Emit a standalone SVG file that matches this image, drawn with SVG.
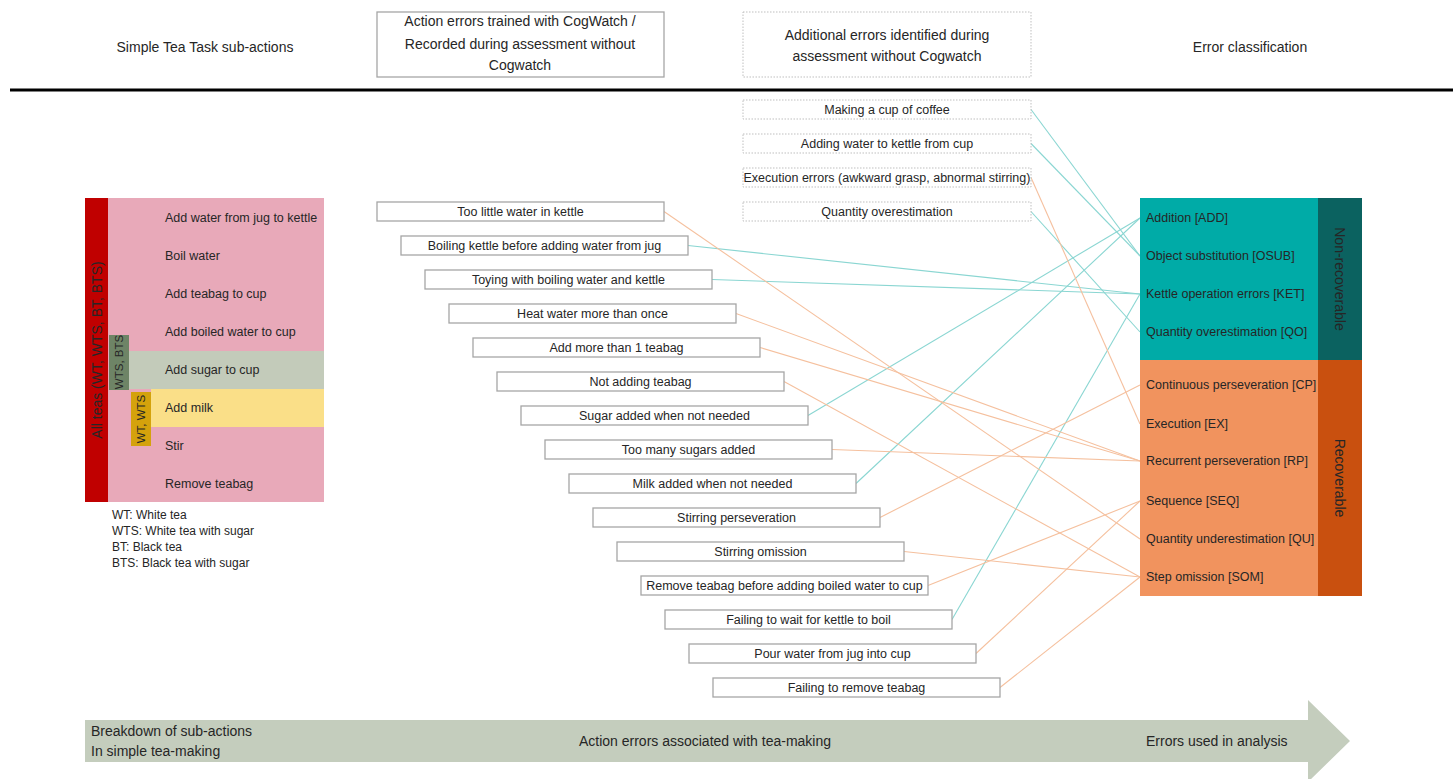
<svg xmlns="http://www.w3.org/2000/svg" width="1453" height="779" viewBox="0 0 1453 779">
<style>
text{font-family:"Liberation Sans",Arial,sans-serif;fill:#262626}
.h{font-size:14px}
.s{font-size:12.5px}
.m{font-size:12.5px;text-anchor:middle}
.box{fill:#fff;stroke:#A6A6A6;stroke-width:1.3}
.dbox{fill:#fff;stroke:#BFBFBF;stroke-width:1;stroke-dasharray:1.5 1.5}
.t{stroke:#8AD6D2;stroke-width:1.1;fill:none}
.o{stroke:#F5C09E;stroke-width:1.1;fill:none}
</style>
<rect width="1453" height="779" fill="#fff"/>

<g id="headers">
<text class="h" x="205" y="52" text-anchor="middle">Simple Tea Task sub-actions</text>
<rect x="377" y="12" width="287" height="65" class="box"/>
<text class="h" x="520" y="26" text-anchor="middle">Action errors trained with CogWatch /</text>
<text class="h" x="520" y="49" text-anchor="middle">Recorded during assessment without</text>
<text class="h" x="520" y="70" text-anchor="middle">Cogwatch</text>
<rect x="743" y="12" width="288" height="65" class="dbox"/>
<text class="h" x="887" y="40" text-anchor="middle">Additional errors identified during</text>
<text class="h" x="887" y="61" text-anchor="middle">assessment without Cogwatch</text>
<text class="h" x="1250" y="52" text-anchor="middle">Error classification</text>
<line x1="10" y1="90" x2="1453" y2="90" stroke="#000" stroke-width="3"/>
</g>

<g id="subactions">
<rect x="85" y="198" width="239" height="304" fill="#E8A9B9"/>
<rect x="129" y="351" width="195" height="38" fill="#C3CBBA"/>
<rect x="151" y="389" width="173" height="38" fill="#FADF88"/>
<rect x="85" y="198" width="23" height="304" fill="#C00000"/>
<rect x="109" y="335" width="20" height="55" fill="#6E8466"/>
<rect x="131" y="392" width="20" height="54" fill="#D4A20C"/>
<text class="h" x="97" y="350" text-anchor="middle" dominant-baseline="central" transform="rotate(-90 97 350)">All teas (WT, WTS, BT, BTS)</text>
<text x="119" y="362" font-size="11.5" text-anchor="middle" dominant-baseline="central" transform="rotate(-90 119 362)">WTS, BTS</text>
<text x="141" y="419" font-size="11.5" text-anchor="middle" dominant-baseline="central" transform="rotate(-90 141 419)">WT, WTS</text>
<text class="s" x="165" y="222">Add water from jug to kettle</text>
<text class="s" x="165" y="260">Boil water</text>
<text class="s" x="165" y="298">Add teabag to cup</text>
<text class="s" x="165" y="336">Add boiled water to cup</text>
<text class="s" x="165" y="374">Add sugar to cup</text>
<text class="s" x="165" y="412">Add milk</text>
<text class="s" x="165" y="450">Stir</text>
<text class="s" x="165" y="488">Remove teabag</text>
<text x="112" y="519" font-size="12">WT: White tea</text>
<text x="112" y="535" font-size="12">WTS: White tea with sugar</text>
<text x="112" y="551" font-size="12">BT: Black tea</text>
<text x="112" y="567" font-size="12">BTS: Black tea with sugar</text>
</g>

<g id="connectors">
<line class="t" x1="688" y1="245.5" x2="1140" y2="294"/>
<line class="t" x1="712" y1="279.5" x2="1140" y2="294"/>
<line class="t" x1="808" y1="415.5" x2="1140" y2="218"/>
<line class="t" x1="856" y1="483.5" x2="1140" y2="218"/>
<line class="t" x1="952" y1="619.5" x2="1140" y2="294"/>
<line class="t" x1="1031" y1="109.5" x2="1140" y2="256"/>
<line class="t" x1="1031" y1="143.5" x2="1140" y2="256"/>
<line class="t" x1="1031" y1="211.5" x2="1140" y2="332"/>
<line class="o" x1="664" y1="211.5" x2="1140" y2="539"/>
<line class="o" x1="736" y1="313.5" x2="1140" y2="461"/>
<line class="o" x1="760" y1="347.5" x2="1140" y2="461"/>
<line class="o" x1="784" y1="381.5" x2="1140" y2="577"/>
<line class="o" x1="832" y1="449.5" x2="1140" y2="461"/>
<line class="o" x1="880" y1="517.5" x2="1140" y2="385"/>
<line class="o" x1="904" y1="551.5" x2="1140" y2="577"/>
<line class="o" x1="928" y1="585.5" x2="1140" y2="501"/>
<line class="o" x1="976" y1="653.5" x2="1140" y2="501"/>
<line class="o" x1="1000" y1="687.5" x2="1140" y2="577"/>
<line class="o" x1="1031" y1="177.5" x2="1140" y2="424"/>
</g>

<g id="action-errors">
<rect class="box" x="377" y="202" width="287" height="19"/><text class="m" x="520.5" y="216">Too little water in kettle</text>
<rect class="box" x="401" y="236" width="287" height="19"/><text class="m" x="544.5" y="250">Boiling kettle before adding water from jug</text>
<rect class="box" x="425" y="270" width="287" height="19"/><text class="m" x="568.5" y="284">Toying with boiling water and kettle</text>
<rect class="box" x="449" y="304" width="287" height="19"/><text class="m" x="592.5" y="318">Heat water more than once</text>
<rect class="box" x="473" y="338" width="287" height="19"/><text class="m" x="616.5" y="352">Add more than 1 teabag</text>
<rect class="box" x="497" y="372" width="287" height="19"/><text class="m" x="640.5" y="386">Not adding teabag</text>
<rect class="box" x="521" y="406" width="287" height="19"/><text class="m" x="664.5" y="420">Sugar added when not needed</text>
<rect class="box" x="545" y="440" width="287" height="19"/><text class="m" x="688.5" y="454">Too many sugars added</text>
<rect class="box" x="569" y="474" width="287" height="19"/><text class="m" x="712.5" y="488">Milk added when not needed</text>
<rect class="box" x="593" y="508" width="287" height="19"/><text class="m" x="736.5" y="522">Stirring perseveration</text>
<rect class="box" x="617" y="542" width="287" height="19"/><text class="m" x="760.5" y="556">Stirring omission</text>
<rect class="box" x="641" y="576" width="287" height="19"/><text class="m" x="784.5" y="590">Remove teabag before adding boiled water to cup</text>
<rect class="box" x="665" y="610" width="287" height="19"/><text class="m" x="808.5" y="624">Failing to wait for kettle to boil</text>
<rect class="box" x="689" y="644" width="287" height="19"/><text class="m" x="832.5" y="658">Pour water from jug into cup</text>
<rect class="box" x="713" y="678" width="287" height="19"/><text class="m" x="856.5" y="692">Failing to remove teabag</text>
</g>

<g id="additional-errors">
<rect class="dbox" x="743" y="100" width="288" height="19"/><text class="m" x="887" y="114">Making a cup of coffee</text>
<rect class="dbox" x="743" y="134" width="288" height="19"/><text class="m" x="887" y="148">Adding water to kettle from cup</text>
<rect class="dbox" x="743" y="168" width="288" height="19"/><text class="m" x="887" y="182">Execution errors (awkward grasp, abnormal stirring)</text>
<rect class="dbox" x="743" y="202" width="288" height="19"/><text class="m" x="887" y="216">Quantity overestimation</text>
</g>

<g id="classification">
<rect x="1140" y="198" width="178" height="162" fill="#00ABA7"/>
<rect x="1318" y="198" width="44" height="162" fill="#0B6260"/>
<rect x="1140" y="360" width="178" height="236" fill="#F1935E"/>
<rect x="1318" y="360" width="44" height="236" fill="#C9500F"/>
<text class="h" x="1340" y="279" text-anchor="middle" dominant-baseline="central" transform="rotate(90 1340 279)">Non-recoverable</text>
<text class="h" x="1340" y="478" text-anchor="middle" dominant-baseline="central" transform="rotate(90 1340 478)">Recoverable</text>
<text class="s" x="1146" y="222">Addition [ADD]</text>
<text class="s" x="1146" y="260">Object substitution [OSUB]</text>
<text class="s" x="1146" y="298">Kettle operation errors [KET]</text>
<text class="s" x="1146" y="336">Quantity overestimation [QO]</text>
<text class="s" x="1146" y="389">Continuous perseveration [CP]</text>
<text class="s" x="1146" y="428">Execution [EX]</text>
<text class="s" x="1146" y="465">Recurrent perseveration [RP]</text>
<text class="s" x="1146" y="505">Sequence [SEQ]</text>
<text class="s" x="1146" y="543">Quantity underestimation [QU]</text>
<text class="s" x="1146" y="581">Step omission [SOM]</text>
</g>

<g id="bottom-arrow">
<polygon points="85,720 1308,720 1308,700 1350,741 1308,782 1308,762 85,762" fill="#C4CDBD"/>
<text class="h" x="91" y="736">Breakdown of sub-actions</text>
<text class="h" x="91" y="756">In simple tea-making</text>
<text class="h" x="705" y="746" text-anchor="middle">Action errors associated with tea-making</text>
<text class="h" x="1146" y="746">Errors used in analysis</text>
</g>
</svg>
